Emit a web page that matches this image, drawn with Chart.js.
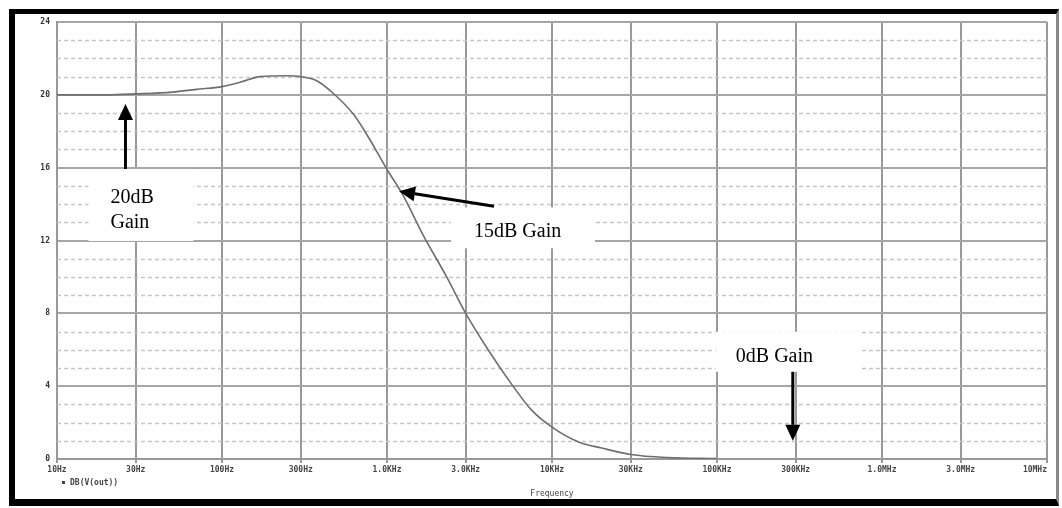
<!DOCTYPE html>
<html>
<head>
<meta charset="utf-8">
<script src="https://cdn.jsdelivr.net/npm/chart.js@4.4.0/dist/chart.umd.min.js"></script>
<style>
  html, body { margin: 0; padding: 0; background: #fff; }
  #wrap { position: relative; width: 1062px; height: 508px; }
  #frame {
    position: absolute; left: 9px; top: 9px; width: 1041px; height: 485px;
    border-left: 6px solid #000; border-top: 5px solid #000;
    border-bottom: 7px solid #000; border-right: 3px solid #888;
    pointer-events: none;
  }
</style>
</head>
<body>
<div id="wrap">
  <canvas id="gainChart" width="1062" height="508"></canvas>
  <div id="frame"></div>
</div>
<script>
// frequency response (Hz, dB)
const freqs = [10, 20, 30, 50, 70, 100, 130, 170, 250, 300, 370, 470, 630, 780,
               1000, 1230, 1700, 2300, 3000, 4100, 5700, 7500, 10000, 14500,
               20000, 30000, 50000, 100000];
const gainDb = [20.0, 20.0, 20.05, 20.15, 20.3, 20.45, 20.7, 21.0, 21.05, 21.0, 20.8, 20.1, 18.9, 17.6,
                15.9, 14.6, 12.1, 10.0, 8.0, 6.0, 4.1, 2.7, 1.75, 0.93,
                0.6, 0.25, 0.08, 0.02];

const xTickValues = [10, 30, 100, 300, 1e3, 3e3, 1e4, 3e4, 1e5, 3e5, 1e6, 3e6, 1e7];
const xTickLabels = ['10Hz', '30Hz', '100Hz', '300Hz', '1.0KHz', '3.0KHz', '10KHz',
                     '30KHz', '100KHz', '300KHz', '1.0MHz', '3.0MHz', '10MHz     '];
const yTickValues = [0, 4, 8, 12, 16, 20, 24];
const yMinorValues = [1, 2, 3, 5, 6, 7, 9, 10, 11, 13, 14, 15, 17, 18, 19, 21, 22, 23];

// callouts: arrow tip in data units, tail, box and text as pixel offsets from the tip
const callouts = [
    { f: 26, db: 19.5, tail: [0, 65], box: [-37, 65, 105, 72], lines: ['20dB', 'Gain'], text: [-15, 99] },
    { f: 1182, db: 14.7, tail: [95, 15], box: [52, 16, 144, 41], lines: ['15dB Gain'], text: [75, 46] },
    { f: 288000, db: 1.0, tail: [0, -69], box: [-77, -109, 144, 40], lines: ['0dB Gain'], text: [-57, -79] }
];

const tickFont = { family: 'DejaVu Sans Mono', size: 8, weight: 'bold' };

const extras = {
    id: 'extras',
    beforeDatasetsDraw(chart) {
        const c = chart.ctx, a = chart.chartArea, y = chart.scales.y;
        c.save();
        c.strokeStyle = '#c6c6c6';
        c.lineWidth = 1.5;
        c.setLineDash([4, 3]);
        yMinorValues.forEach(v => {
            const py = Math.round(y.getPixelForValue(v)) + 0.5;
            c.beginPath();
            c.moveTo(a.left, py);
            c.lineTo(a.right, py);
            c.stroke();
        });
        c.restore();
    },
    afterDraw(chart) {
        const c = chart.ctx, xs = chart.scales.x, ys = chart.scales.y;
        c.save();
        // trace name under the axis
        c.fillStyle = '#444';
        c.fillRect(62, 481, 3, 3);
        c.font = 'bold 8px DejaVu Sans Mono';
        c.textBaseline = 'middle';
        c.fillText('DB(V(out))', 70, 483);
        c.font = '8px DejaVu Sans Mono';
        c.textAlign = 'center';
        c.fillText('Frequency', 552, 494);

        callouts.forEach(o => {
            const tx = xs.getPixelForValue(o.f), ty = ys.getPixelForValue(o.db);
            c.fillStyle = '#fff';
            c.fillRect(tx + o.box[0], ty + o.box[1], o.box[2], o.box[3]);
            c.fillStyle = '#000';
            c.font = '20px "Liberation Serif"';
            c.textAlign = 'left';
            c.textBaseline = 'alphabetic';
            o.lines.forEach((s, i) => c.fillText(s, tx + o.text[0], ty + o.text[1] + i * 25));
            // arrow
            const ex = tx + o.tail[0], ey = ty + o.tail[1];
            const ang = Math.atan2(ty - ey, tx - ex);
            const hl = 16, hw = 7.5;
            const bx = tx - hl * Math.cos(ang), by = ty - hl * Math.sin(ang);
            c.strokeStyle = '#000';
            c.lineWidth = 3;
            c.beginPath();
            c.moveTo(ex, ey);
            c.lineTo(bx, by);
            c.stroke();
            c.beginPath();
            c.moveTo(tx, ty);
            c.lineTo(bx + hw * Math.sin(ang), by - hw * Math.cos(ang));
            c.lineTo(bx - hw * Math.sin(ang), by + hw * Math.cos(ang));
            c.closePath();
            c.fill();
        });
        c.restore();
    }
};

const ctx = document.getElementById('gainChart').getContext('2d');
new Chart(ctx, {
    type: 'line',
    data: {
        datasets: [{
            data: freqs.map((f, i) => ({ x: f, y: gainDb[i] })),
            borderColor: '#6e6e6e',
            borderWidth: 1.6,
            pointRadius: 0,
            cubicInterpolationMode: 'monotone',
            fill: false
        }]
    },
    options: {
        responsive: false,
        animation: false,
        events: [],
        layout: { padding: { left: 0, top: 22, right: 15, bottom: 0 } },
        plugins: { legend: { display: false }, tooltip: { enabled: false } },
        scales: {
            x: {
                type: 'logarithmic',
                min: 10,
                max: 1e7,
                afterBuildTicks: s => { s.ticks = xTickValues.map(v => ({ value: v })); },
                afterFit: s => { s.height = 49; s.paddingLeft = 0; s.paddingRight = 0; },
                ticks: {
                    autoSkip: false,
                    maxRotation: 0,
                    padding: 2,
                    color: '#444',
                    font: tickFont,
                    callback: (v) => xTickLabels[xTickValues.indexOf(v)]
                },
                grid: { color: '#999', lineWidth: 2, tickLength: 4, tickColor: '#999' },
                border: { color: '#999', width: 2 }
            },
            y: {
                min: 0,
                max: 24,
                afterBuildTicks: s => { s.ticks = yTickValues.map(v => ({ value: v })); },
                afterFit: s => { s.width = 57; },
                ticks: { color: '#333', font: tickFont, padding: 7 },
                grid: { color: '#a6a6a6', lineWidth: 2, drawTicks: false },
                border: { color: '#999', width: 2 }
            }
        }
    },
    plugins: [extras]
});
</script>
</body>
</html>
